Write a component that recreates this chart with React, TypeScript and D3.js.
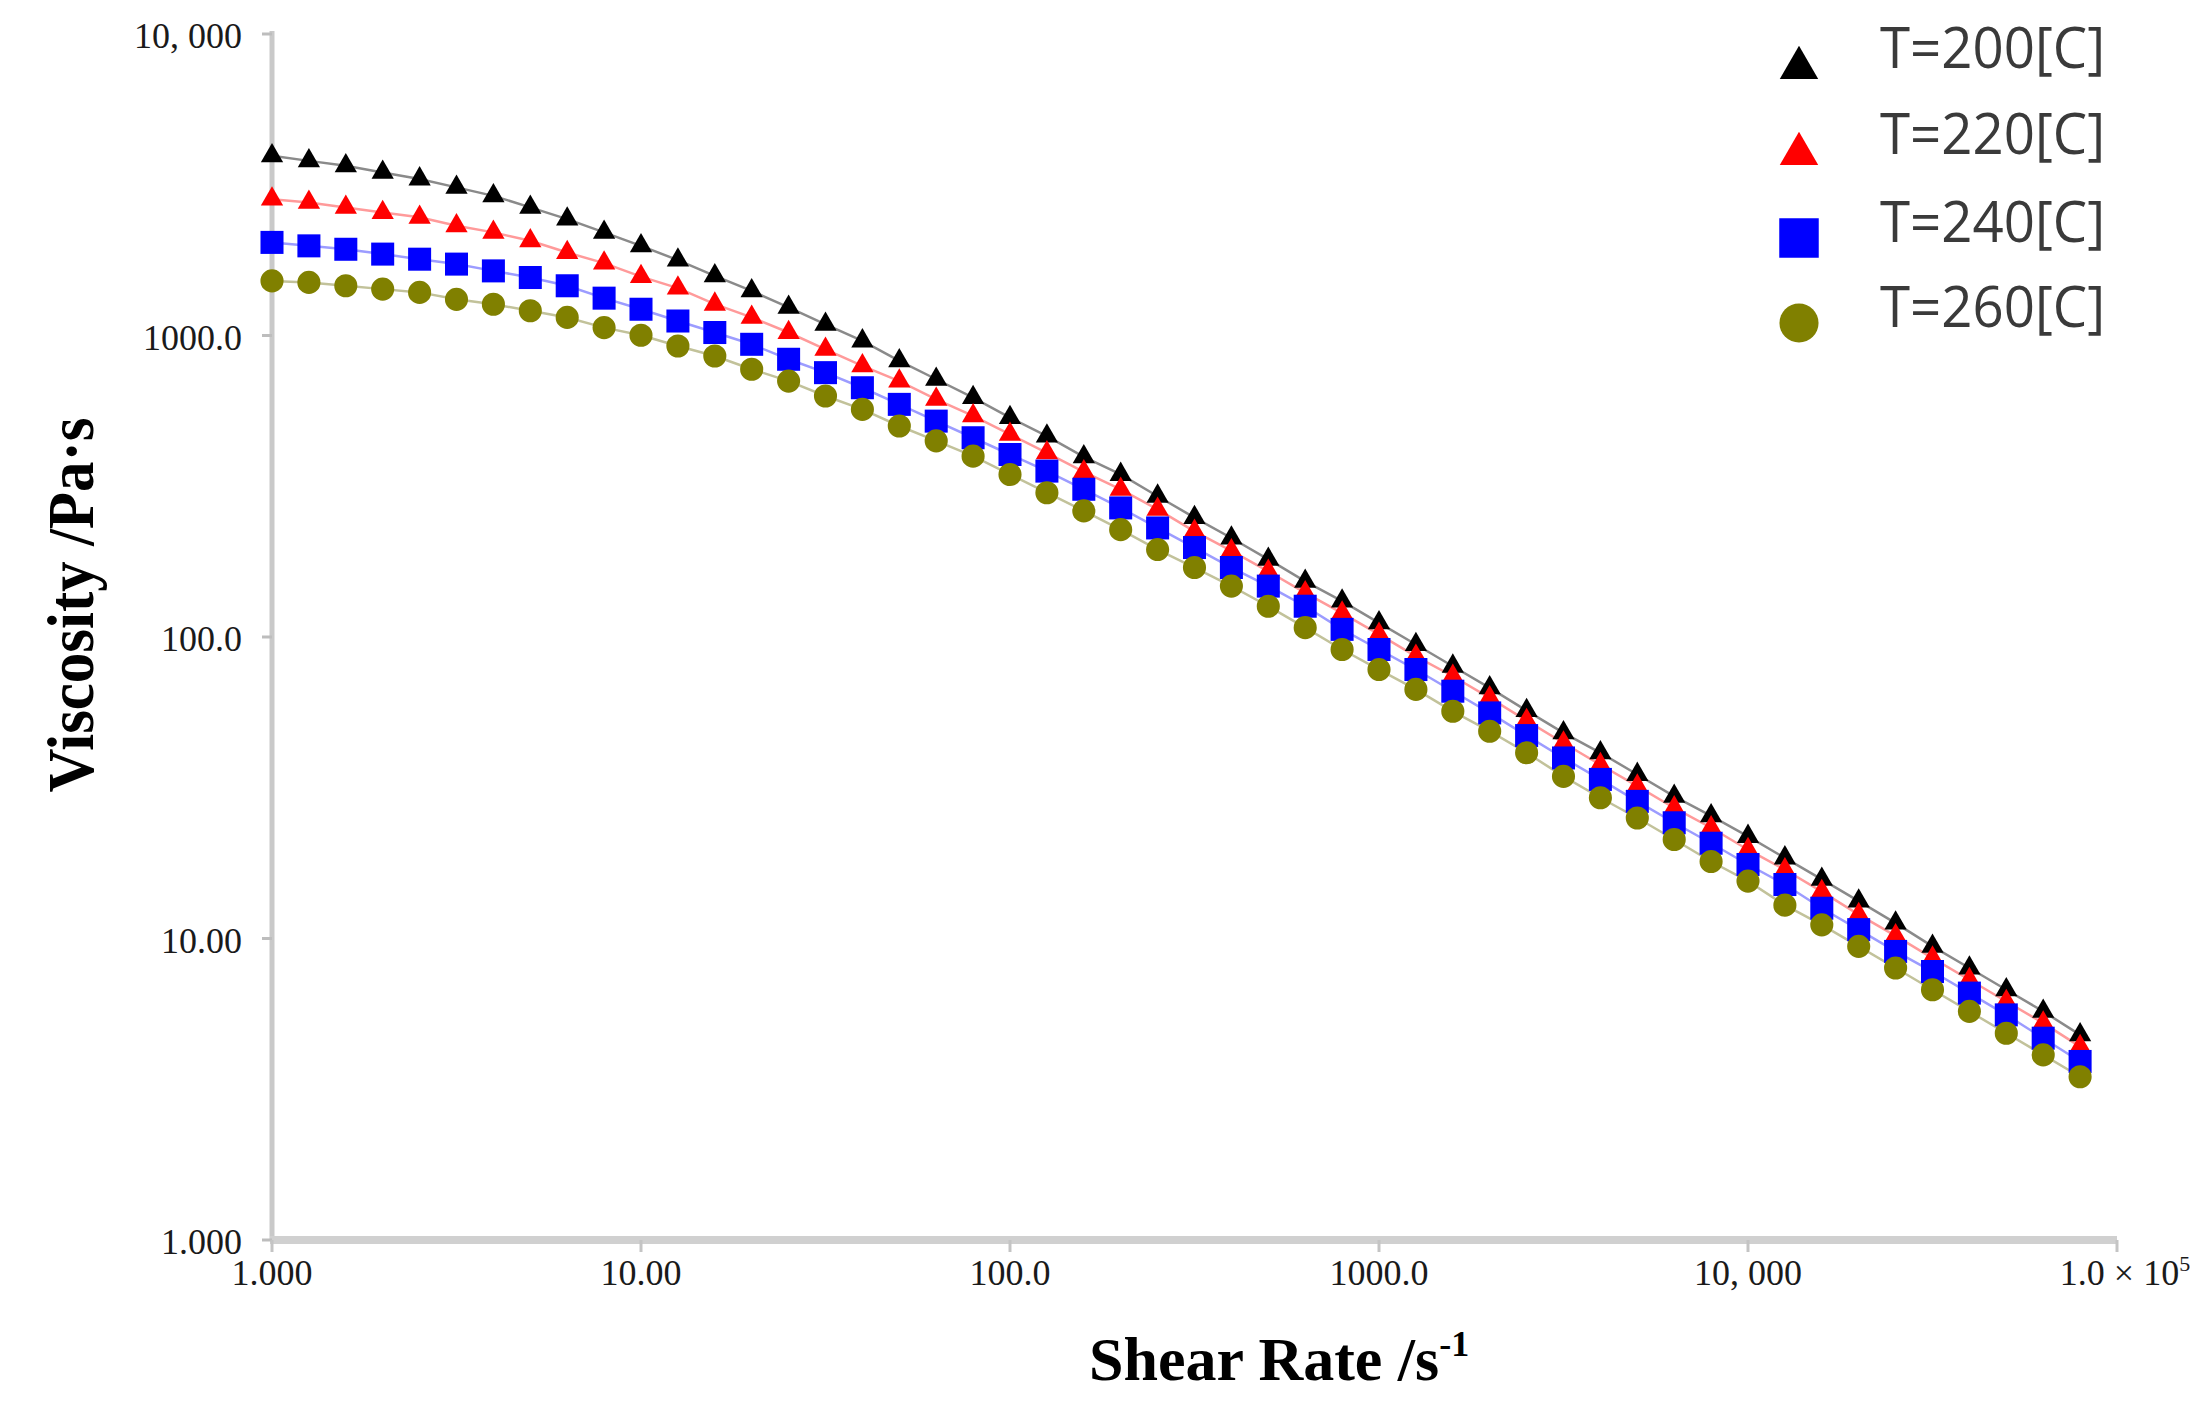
import React, { useEffect, useRef } from 'react';
import * as d3 from 'd3';

// shear rate, 10 points per decade
const shearRate = [
  1, 1.259, 1.585, 1.995, 2.512, 3.162, 3.981, 5.012, 6.31, 7.943,
  10, 12.59, 15.85, 19.95, 25.12, 31.62, 39.81, 50.12, 63.1, 79.43,
  100, 125.9, 158.5, 199.5, 251.2, 316.2, 398.1, 501.2, 631, 794.3,
  1000, 1259, 1585, 1995, 2512, 3162, 3981, 5012, 6310, 7943,
  10000, 12589, 15849, 19953, 25119, 31623, 39811, 50119, 63096, 79433,
];

// viscosity (Pa·s)
const eta200 = [
  3945, 3795, 3655, 3475, 3305, 3100, 2905, 2660, 2432, 2198,
  1983, 1778, 1577, 1406, 1239, 1089, 959, 824, 716, 622,
  534, 464, 396, 346, 293, 249, 213, 181, 153, 131.5,
  111.4, 94.4, 80.0, 67.8, 57.0, 48.1, 41.3, 35.0, 29.6, 25.5,
  21.8, 18.5, 15.7, 13.3, 11.25, 9.42, 7.98, 6.76, 5.73, 4.79,
];
const eta220 = [
  2833, 2763, 2660, 2558, 2466, 2312, 2198, 2061, 1884, 1738,
  1567, 1436, 1270, 1148, 1023, 900, 793, 706, 614, 541,
  470, 408, 353, 309, 265, 224, 193, 165, 140, 120,
  102, 86.3, 74.1, 62.8, 52.8, 44.5, 37.7, 32.0, 27.1, 23.3,
  19.7, 16.9, 14.3, 12.0, 10.2, 8.61, 7.3, 6.18, 5.24, 4.38,
];
const eta240 = [
  2036, 1983, 1932, 1862, 1791, 1725, 1638, 1557, 1462, 1330,
  1222, 1117, 1023, 935, 834, 753, 671, 591, 520, 458,
  403, 355, 309, 268, 230, 198, 170, 147.5, 126.5, 106,
  90.9, 78.0, 66.1, 56.0, 47.1, 39.7, 33.7, 28.5, 24.2, 20.7,
  17.6, 15.1, 12.6, 10.7, 9.06, 7.77, 6.59, 5.58, 4.67, 3.91,
];
const eta260 = [
  1517, 1500, 1462, 1425, 1390, 1318, 1270, 1208, 1148, 1062,
  1002, 923, 855, 773, 706, 630, 569, 501, 447, 398,
  346, 301, 262, 227, 195, 170, 147.5, 126.5, 107.4, 90.9,
  78.0, 67.0, 56.7, 48.7, 41.3, 34.5, 29.3, 25.1, 21.3, 18.0,
  15.5, 12.9, 11.1, 9.42, 7.98, 6.76, 5.73, 4.85, 4.11, 3.48,
];

const seriesNames = ['T=200[C]', 'T=220[C]', 'T=240[C]', 'T=260[C]'];

const yTickValues = [1, 10, 100, 1000, 10000];
const yTickLabels = ['1.000', '10.00', '100.0', '1000.0', '10, 000'];
const xTickValues = [1, 10, 100, 1000, 10000, 100000];
const xTickLabels = ['1.000', '10.00', '100.0', '1000.0', '10, 000', '1.0 × 10'];

const App: React.FC = () => {
  const chartRef = useRef<SVGSVGElement | null>(null);

  useEffect(() => {
    if (!chartRef.current) return;
    const root = d3.select(chartRef.current);
    root.selectAll('*').remove();

    const width = 2206;
    const height = 1408;
    root.attr('width', width).attr('height', height);

    const svg = root.append('g');
    svg.append('rect').attr('width', width).attr('height', height).attr('fill', '#fff');

    // log scales
    const x = d3.scaleLog().domain([1, 1e5]).range([272, 2117]);
    const y = d3.scaleLog().domain([1, 1e4]).range([1240, 34]);

    const serif = '"Liberation Serif", "Times New Roman", serif';

    // axes
    svg.append('line')
      .attr('x1', x(1)).attr('x2', x(1))
      .attr('y1', y(1e4) - 3).attr('y2', y(1))
      .attr('stroke', '#c9c9c9').attr('stroke-width', 5);

    svg.append('line')
      .attr('x1', x(1) - 2).attr('x2', x(1e5))
      .attr('y1', y(1)).attr('y2', y(1))
      .attr('stroke', '#d0d0d0').attr('stroke-width', 8);

    svg.selectAll('.ytick')
      .data(yTickValues)
      .enter().append('line')
      .attr('class', 'ytick')
      .attr('x1', x(1) - 10).attr('x2', x(1))
      .attr('y1', (d) => y(d)).attr('y2', (d) => y(d))
      .attr('stroke', '#bdbdbd').attr('stroke-width', 3);

    svg.selectAll('.xtick')
      .data(xTickValues)
      .enter().append('line')
      .attr('class', 'xtick')
      .attr('x1', (d) => x(d)).attr('x2', (d) => x(d))
      .attr('y1', y(1)).attr('y2', y(1) + 12)
      .attr('stroke', '#c4c4c4').attr('stroke-width', 3);

    // tick labels
    svg.selectAll('.ylabel')
      .data(yTickValues)
      .enter().append('text')
      .attr('class', 'ylabel')
      .attr('x', 242)
      .attr('y', (d) => y(d) + 14)
      .attr('text-anchor', 'end')
      .style('font-family', serif)
      .style('font-size', '36px')
      .style('fill', '#1a1a1a')
      .text((d, i) => yTickLabels[i]);

    const xl = svg.selectAll('.xlabel')
      .data(xTickValues)
      .enter().append('text')
      .attr('class', 'xlabel')
      .attr('x', (d) => x(d) + (d === 1e5 ? 8 : 0))
      .attr('y', 1285)
      .attr('text-anchor', 'middle')
      .style('font-family', serif)
      .style('font-size', '36px')
      .style('fill', '#1a1a1a');
    xl.append('tspan').text((d, i) => xTickLabels[i]);
    xl.filter((d) => d === 1e5)
      .append('tspan')
      .attr('dy', -14)
      .style('font-size', '22px')
      .text('5');

    // axis titles
    svg.append('text')
      .attr('transform', 'translate(93,605) rotate(-90)')
      .attr('text-anchor', 'middle')
      .attr('textLength', 375)
      .attr('lengthAdjust', 'spacingAndGlyphs')
      .style('font-family', serif)
      .style('font-weight', 'bold')
      .style('font-size', '66px')
      .style('fill', '#000')
      .text('Viscosity /Pa·s');

    const xTitle = svg.append('text')
      .attr('x', 1089)
      .attr('y', 1380)
      .style('font-family', serif)
      .style('font-weight', 'bold')
      .style('font-size', '62px')
      .style('fill', '#000');
    xTitle.append('tspan').text('Shear Rate /s');
    xTitle.append('tspan')
      .attr('dy', -24)
      .style('font-size', '36px')
      .text('-1');

    // series
    const series = [
      { name: seriesNames[0], values: eta200, fill: '#000000', line: '#8a8a8a', symbol: d3.symbolTriangle, size: 215, legendSize: 640 },
      { name: seriesNames[1], values: eta220, fill: '#ff0000', line: '#ff9a9a', symbol: d3.symbolTriangle, size: 215, legendSize: 640 },
      { name: seriesNames[2], values: eta240, fill: '#0000ff', line: '#9c9cff', symbol: d3.symbolSquare, size: 530, legendSize: 1560 },
      { name: seriesNames[3], values: eta260, fill: '#808000', line: '#c2c29a', symbol: d3.symbolCircle, size: 420, legendSize: 1200 },
    ];

    const line = d3.line<number>()
      .x((d, i) => x(shearRate[i]))
      .y((d) => y(d));

    series.forEach((s) => {
      svg.append('path')
        .datum(s.values)
        .attr('d', line)
        .attr('fill', 'none')
        .attr('stroke', s.line)
        .attr('stroke-width', 2.5);
    });

    series.forEach((s, si) => {
      svg.selectAll(`.pt-${si}`)
        .data(s.values)
        .enter().append('path')
        .attr('class', `pt-${si}`)
        .attr('transform', (d, i) => `translate(${x(shearRate[i])},${y(d)})`)
        .attr('d', d3.symbol().type(s.symbol).size(s.size)())
        .attr('fill', s.fill);
    });

    // legend
    const legend = svg.append('g').attr('transform', 'translate(1799,0)');
    const legendRows = [64, 150, 238, 323];
    series.forEach((s, i) => {
      legend.append('path')
        .attr('transform', `translate(0,${legendRows[i] + (s.symbol === d3.symbolTriangle ? 4 : 0)})`)
        .attr('d', d3.symbol().type(s.symbol).size(s.legendSize)())
        .attr('fill', s.fill);
      legend.append('text')
        .attr('x', 81)
        .attr('y', legendRows[i] + 4)
        .attr('textLength', 225)
        .attr('lengthAdjust', 'spacingAndGlyphs')
        .style('font-family', '"Open Sans", "DejaVu Sans", sans-serif')
        .style('font-size', '56px')
        .style('fill', '#3a3a3a')
        .text(s.name);
    });
  }, []);

  return (
    <svg
      ref={chartRef}
      style={{ position: 'absolute', left: 0, top: 0, display: 'block' }}
    ></svg>
  );
};

export default App;
